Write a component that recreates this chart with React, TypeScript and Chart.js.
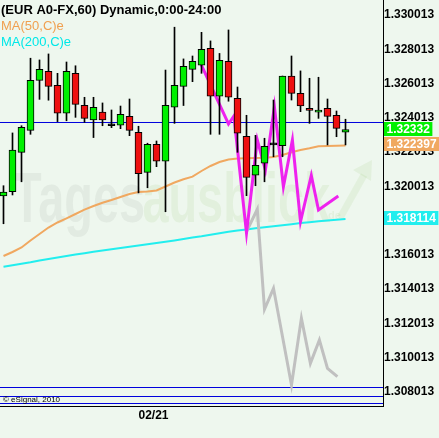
import React, { useEffect, useRef } from 'react';
import { Chart, registerables } from 'chart.js';

Chart.register(...registerables);

// ---------- data ----------
const opens = [1.31945, 1.3197, 1.322, 1.32328, 1.3262, 1.32673, 1.32591, 1.32429, 1.32661, 1.32474, 1.32389, 1.32434, 1.32355, 1.32358, 1.3241, 1.32317, 1.32083, 1.32247, 1.32148, 1.32463, 1.32585, 1.32684, 1.32708, 1.32807, 1.32527, 1.32731, 1.32515, 1.32293, 1.32066, 1.32136, 1.32243, 1.32239, 1.32645, 1.32544, 1.32457, 1.32434, 1.32457, 1.32416, 1.32317];
const highs = [1.32005, 1.32313, 1.32355, 1.32749, 1.32739, 1.32774, 1.32661, 1.32727, 1.32705, 1.32521, 1.32521, 1.32488, 1.32447, 1.3247, 1.32511, 1.32352, 1.32253, 1.32266, 1.3268, 1.3293, 1.32745, 1.32762, 1.329, 1.3285, 1.32777, 1.32914, 1.32581, 1.32416, 1.32299, 1.32282, 1.32505, 1.32645, 1.32762, 1.32675, 1.32632, 1.32638, 1.32511, 1.32441, 1.32393];
const lows = [1.31783, 1.31951, 1.32028, 1.32305, 1.32509, 1.32504, 1.32379, 1.32384, 1.32404, 1.32375, 1.32286, 1.32355, 1.32344, 1.32338, 1.32297, 1.31963, 1.31993, 1.32116, 1.31853, 1.32369, 1.32473, 1.32612, 1.32661, 1.32305, 1.32305, 1.32498, 1.322, 1.31947, 1.32005, 1.32028, 1.32174, 1.32174, 1.32505, 1.32437, 1.32369, 1.32398, 1.32243, 1.32291, 1.32243];
const closes = [1.31968, 1.32213, 1.32346, 1.3262, 1.32684, 1.32585, 1.32429, 1.32673, 1.3248, 1.32398, 1.32463, 1.32389, 1.32355, 1.32422, 1.32328, 1.32075, 1.32247, 1.32148, 1.32474, 1.32591, 1.32702, 1.32731, 1.32801, 1.32527, 1.32737, 1.32521, 1.32311, 1.32054, 1.32124, 1.32235, 1.32243, 1.32645, 1.32544, 1.3247, 1.32445, 1.32445, 1.3241, 1.3234, 1.32332];

const ma50 = [1.315948, 1.316182, 1.316444, 1.316853, 1.317232, 1.317611, 1.317903, 1.318148, 1.318399, 1.31865, 1.318866, 1.319059, 1.319216, 1.319391, 1.319567, 1.319683, 1.319712, 1.319771, 1.320004, 1.320238, 1.320424, 1.320576, 1.320909, 1.321201, 1.321434, 1.32158, 1.321638, 1.32165, 1.321668, 1.321685, 1.321726, 1.321843, 1.322, 1.322134, 1.322234, 1.32235, 1.322368, 1.322379, 1.322397];
const ma200 = [1.315324, 1.315411, 1.315499, 1.315586, 1.315686, 1.315773, 1.315861, 1.315948, 1.31603, 1.316112, 1.316193, 1.316275, 1.316345, 1.316415, 1.316485, 1.316561, 1.316637, 1.316707, 1.316783, 1.316859, 1.31694, 1.317022, 1.317098, 1.317191, 1.317279, 1.317361, 1.317436, 1.317501, 1.317565, 1.317629, 1.317687, 1.317746, 1.317804, 1.317868, 1.317921, 1.317973, 1.31802, 1.318067, 1.318114];

const magentaX = [21.9, 25.0, 25.6, 27.0, 28.2, 29.1, 30.1, 31.1, 32.1, 33.0, 34.2, 35.0, 37.2];
const magentaY = [1.327194, 1.323652, 1.324119, 1.317291, 1.322718, 1.320967, 1.324661, 1.319993, 1.322718, 1.31795, 1.320646, 1.318633, 1.31945];
const grayX = [27.0, 28.2, 29.0, 30.0, 32.0, 33.1, 34.1, 35.1, 36.0, 37.1];
const grayY = [1.317366, 1.318674, 1.312838, 1.314063, 1.30842, 1.312312, 1.309686, 1.311046, 1.309394, 1.308904];

const hLineValues = [1.323739, 1.308273, 1.307748, 1.307339];

const yTickValues = [1.308013, 1.310013, 1.312013, 1.314013, 1.316013, 1.318013, 1.320013, 1.322013, 1.324013, 1.326013, 1.328013, 1.330013];
const xTickValues = [15];
const xTickLabels = ['02/21'];

const tagValues = [1.32332, 1.322397, 1.318114];
const tagTexts = ['1.32332', '1.322397', '1.318114'];

// ---------- styles ----------
const FONT = '"Liberation Sans", Arial, sans-serif';
const BG = '#eef7ee';
const GREEN = '#00f000';
const RED = '#ee1010';
const ORANGE = '#f0a860';
const CYAN = '#22eeee';
const MAGENTA = '#ee22ee';
const GRAY = '#c0c0c0';
const BLUE = '#0000dd';
const tagColors = [GREEN, ORANGE, CYAN];

const X_MIN = -0.38889;
const X_MAX = 42.16667;
const Y_MIN = 1.307194;
const Y_MAX = 1.330888;

const decoPlugin = {
  id: 'deco',
  beforeDraw(chart: any) {
    const ctx = chart.ctx;
    ctx.save();
    ctx.fillStyle = BG;
    ctx.fillRect(0, 0, chart.width, chart.height);
    ctx.restore();
  },
  beforeDatasetsDraw(chart: any) {
    const ctx = chart.ctx;
    ctx.save();
    ctx.font = 'bold 70px ' + FONT;
    ctx.textBaseline = 'alphabetic';
    ctx.translate(13, 222);
    ctx.scale(0.67, 1);
    ctx.fillStyle = 'rgba(110,125,110,0.09)';
    ctx.fillText('Tages', 0, 0);
    const w = ctx.measureText('Tages').width;
    ctx.fillStyle = 'rgba(110,175,60,0.09)';
    ctx.fillText('ausblick', w - 4, 0);
    ctx.restore();
    ctx.save();
    ctx.fillStyle = 'rgba(110,175,60,0.09)';
    ctx.font = 'bold 11px ' + FONT;
    ctx.fillText('de', 328, 219);
    ctx.strokeStyle = 'rgba(110,175,60,0.09)';
    ctx.lineWidth = 7;
    ctx.beginPath();
    ctx.moveTo(340, 218);
    ctx.lineTo(364, 175);
    ctx.stroke();
    ctx.beginPath();
    ctx.moveTo(372, 160);
    ctx.lineTo(353, 170);
    ctx.lineTo(371, 181);
    ctx.closePath();
    ctx.fill();
    ctx.restore();
  },
  afterDatasetsDraw(chart: any) {
    const ctx = chart.ctx;
    ctx.save();
    ctx.textBaseline = 'alphabetic';
    ctx.textAlign = 'left';
    ctx.font = 'bold 13px ' + FONT;
    ctx.fillStyle = '#000';
    ctx.fillText('(EUR A0-FX,60) Dynamic,0:00-24:00', 1, 14);
    ctx.font = '13px ' + FONT;
    ctx.fillStyle = '#f0a050';
    ctx.fillText('MA(50,C)e', 1, 29.5);
    ctx.fillStyle = '#00e8e8';
    ctx.fillText('MA(200,C)e', 1, 45.5);
    ctx.font = '8px ' + FONT;
    ctx.fillStyle = '#000';
    ctx.fillText('\u00a9 eSignal, 2010', 3, 402);
    ctx.restore();
  },
  afterDraw(chart: any) {
    const ctx = chart.ctx;
    const ys = chart.scales.y;
    const left = chart.chartArea.right + 1;
    ctx.save();
    ctx.font = 'bold 12px ' + FONT;
    ctx.textBaseline = 'middle';
    ctx.textAlign = 'left';
    tagValues.forEach((v, k) => {
      const py = Math.round(ys.getPixelForValue(v)) - 1;
      const tw = ctx.measureText(tagTexts[k]).width;
      ctx.fillStyle = tagColors[k];
      ctx.fillRect(left, py - 7, tw + 5, 14);
      ctx.fillStyle = '#fff';
      ctx.fillText(tagTexts[k], left + 2.5, py + 0.5);
    });
    ctx.restore();
  },
};

export default function App() {
  const ref = useRef<HTMLCanvasElement | null>(null);

  useEffect(() => {
    if (!ref.current) return;
    const bodyData = opens.map((o, i) => ({ x: i, y: [o, closes[i]] }));
    const bodyColors = opens.map((o, i) => (closes[i] > o ? GREEN : closes[i] < o ? RED : '#000'));
    const wickData = highs.map((h, i) => ({ x: i, y: [lows[i], h] }));
    const lineDs = (data: any[], color: string, width: number, order: number) => ({
      type: 'line' as const,
      data,
      borderColor: color,
      borderWidth: width,
      pointRadius: 0,
      tension: 0,
      fill: false,
      order,
    });

    const datasets: any[] = [
      {
        type: 'bar',
        data: bodyData,
        backgroundColor: bodyColors,
        borderColor: '#000',
        borderWidth: 1,
        borderSkipped: false,
        barThickness: 7,
        grouped: false,
        minBarLength: 2,
        order: 0,
      },
      {
        type: 'bar',
        data: wickData,
        backgroundColor: '#000',
        borderWidth: 0,
        barThickness: 1,
        grouped: false,
        order: 1,
      },
      lineDs(magentaX.map((x, k) => ({ x, y: magentaY[k] })), MAGENTA, 3, 2),
      lineDs(grayX.map((x, k) => ({ x, y: grayY[k] })), GRAY, 3, 2),
      lineDs(ma50.map((y, i) => ({ x: i, y })), ORANGE, 2, 3),
      lineDs(ma200.map((y, i) => ({ x: i, y })), CYAN, 2, 3),
      ...hLineValues.map((v) => lineDs([{ x: X_MIN, y: v }, { x: X_MAX, y: v }], BLUE, 1, 4)),
    ];

    const chart = new Chart(ref.current, {
      type: 'bar',
      data: { datasets },
      plugins: [decoPlugin],
      options: {
        responsive: false,
        animation: false,
        devicePixelRatio: 1,
        layout: { padding: 0 },
        plugins: {
          legend: { display: false },
          tooltip: { enabled: false },
          title: { display: false },
        },
        scales: {
          x: {
            type: 'linear',
            min: X_MIN,
            max: X_MAX,
            offset: false,
            grid: { display: false, drawTicks: false },
            border: { display: true, color: '#000', width: 1 },
            ticks: {
              autoSkip: false,
              align: 'start',
              padding: 2,
              maxRotation: 0,
              color: '#000',
              font: { family: FONT, size: 12, weight: 'bold' },
              callback: (value: any) => {
                const k = xTickValues.indexOf(Number(value));
                return k >= 0 ? xTickLabels[k] : '';
              },
            },
            afterBuildTicks: (s: any) => {
              s.ticks = xTickValues.map((v) => ({ value: v }));
            },
            afterFit: (s: any) => {
              s.height = 32;
              s.paddingLeft = 0;
              s.paddingRight = 0;
            },
          },
          y: {
            type: 'linear',
            position: 'right',
            min: Y_MIN,
            max: Y_MAX,
            grid: { display: false, drawTicks: false },
            border: { display: true, color: '#000', width: 1 },
            ticks: {
              autoSkip: false,
              padding: 1,
              color: '#000',
              font: { family: FONT, size: 12, weight: 'bold' },
              callback: (value: any) => Number(value).toFixed(6),
            },
            afterBuildTicks: (s: any) => {
              s.ticks = yTickValues.map((v) => ({ value: v }));
            },
            afterFit: (s: any) => {
              s.width = 56;
              s.paddingTop = 0;
              s.paddingBottom = 0;
            },
          },
        },
      } as any,
    });
    return () => chart.destroy();
  }, []);

  return (
    <div style={{ position: 'fixed', left: 0, top: 0, width: 439, height: 438, background: BG }}>
      <canvas ref={ref} width={439} height={438} style={{ display: 'block', width: 439, height: 438 }} />
    </div>
  );
}
